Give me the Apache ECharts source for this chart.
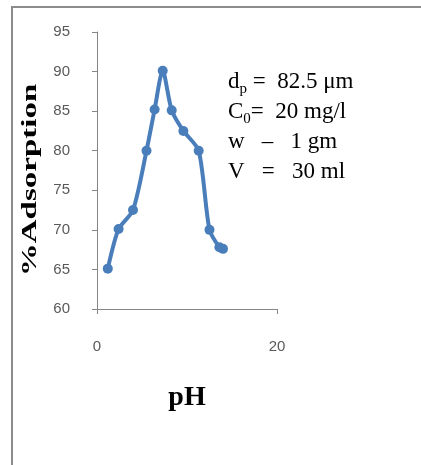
<!DOCTYPE html>
<html>
<head>
<meta charset="utf-8">
<script src="https://cdn.jsdelivr.net/npm/echarts@6/dist/echarts.min.js"></script>
<style>
  html, body { margin: 0; padding: 0; background: #fff; overflow: hidden; }
  #chart { width: 421px; height: 465px; }
</style>
</head>
<body>
<div id="chart"></div>
<script>
// 数据 (pH vs %Adsorption)
const phValues = [1.2, 2.4, 4.0, 5.5, 6.4, 7.3, 8.3, 9.6, 11.3, 12.5, 13.6, 14.0]
const adsorption = [65.1, 70.1, 72.5, 80.0, 85.2, 90.1, 85.1, 82.5, 80.0, 70.0, 67.8, 67.6]
const xTicks = [0, 20]
const yTicks = [60, 65, 70, 75, 80, 85, 90, 95]
const noteLines = [
  '{t|d}{s|p}{t| =  82.5 μm}',
  '{t|C}{s|0}{t|=  20 mg/l}',
  '{t|w   –   1 gm}',
  '{t|V   =   30 ml}'
]

const chart = echarts.init(document.getElementById('chart'))

const serif = '"Liberation Serif", "Times New Roman", serif'
const axisGray = '#868686'
const labelGray = '#595959'

const points = phValues.map((x, i) => [x, adsorption[i]])

// 文本框
const noteText = noteLines.map((line, i) => ({
  type: 'text',
  x: 228,
  y: 82 + i * 30,
  style: {
    text: line,
    verticalAlign: 'middle',
    textVerticalAlign: 'middle',
    rich: {
      t: { fontFamily: serif, fontSize: 23, lineHeight: 30, color: '#000' },
      s: { fontFamily: serif, fontSize: 15, lineHeight: 14, color: '#000', verticalAlign: 'bottom' }
    }
  }
}))

const option = {
  backgroundColor: '#fff',
  animation: false,
  grid: { left: 97, top: 32, right: 144, bottom: 156 },
  xAxis: {
    type: 'value',
    min: xTicks[0],
    max: xTicks[xTicks.length - 1],
    interval: xTicks[1] - xTicks[0],
    name: 'pH',
    nameLocation: 'middle',
    nameGap: 75,
    nameTextStyle: { fontFamily: serif, fontWeight: 'bold', fontSize: 28, color: '#000' },
    axisLine: { show: true, lineStyle: { color: axisGray, width: 1 } },
    axisTick: { show: true, inside: false, length: 5, lineStyle: { color: axisGray } },
    axisLabel: { margin: 30, fontFamily: '"Liberation Sans", sans-serif', fontSize: 15, color: labelGray },
    splitLine: { show: false }
  },
  yAxis: {
    type: 'value',
    min: yTicks[0],
    max: yTicks[yTicks.length - 1],
    interval: yTicks[1] - yTicks[0],
    axisLine: { show: true, lineStyle: { color: axisGray, width: 1 } },
    axisTick: { show: true, inside: false, length: 5, lineStyle: { color: axisGray } },
    axisLabel: { margin: 27, fontFamily: '"Liberation Sans", sans-serif', fontSize: 15, color: labelGray },
    splitLine: { show: false }
  },
  graphic: [
    // 外框 (上边和左边)
    {
      type: 'polyline',
      shape: { points: [[12, 480], [12, 7], [440, 7]] },
      style: { fill: null, stroke: '#8c8c8c', lineWidth: 2 },
      silent: true
    },
    // y轴标题
    {
      type: 'text',
      x: 31,
      y: 180,
      rotation: Math.PI / 2,
      scaleX: 1.65,
      style: {
        text: '%Adsorption',
        font: 'bold 20px ' + serif,
        fill: '#000',
        align: 'center',
        verticalAlign: 'middle',
        textAlign: 'center',
        textVerticalAlign: 'middle'
      }
    },
    ...noteText
  ],
  series: [
    {
      type: 'line',
      data: points,
      smooth: 0.25,
      symbol: 'circle',
      symbolSize: 10,
      lineStyle: { color: '#4A7EBB', width: 4 },
      itemStyle: { color: '#4A7EBB' }
    }
  ]
}

chart.setOption(option)
</script>
</body>
</html>
